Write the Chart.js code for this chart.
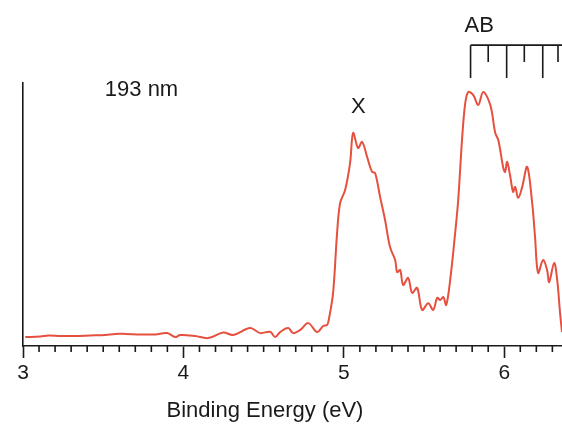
<!DOCTYPE html>
<html lang="en">
<head>
  <meta charset="UTF-8" />
  <title>193 nm photoelectron spectrum</title>
  <script src="https://cdn.jsdelivr.net/npm/chart.js"></script>
  <style>
    html, body { margin: 0; padding: 0; background: #fff; }
    .wrap { width: 562px; height: 424px; }
  </style>
</head>
<body>
  <div class="wrap"><canvas id="pes"></canvas></div>

  <script>
    // binding energy (eV) and signal (arb. units, 0-100)
    const energy = [
      3.014, 3.108, 3.158, 3.232, 3.326, 3.419, 3.513, 3.575, 3.637, 3.731,
      3.824, 3.899, 3.949, 3.980, 4.073, 4.154, 4.248, 4.310, 4.416, 4.478,
      4.541, 4.572, 4.603, 4.653, 4.684, 4.728, 4.778, 4.834, 4.871, 4.896,
      4.908, 4.933, 4.958, 4.977, 5.008, 5.039, 5.058, 5.089, 5.114, 5.145,
      5.176, 5.195, 5.226, 5.257, 5.288, 5.320, 5.332, 5.351, 5.370, 5.401,
      5.426, 5.457, 5.488, 5.526, 5.557, 5.582, 5.601, 5.620, 5.638, 5.663,
      5.694, 5.713, 5.738, 5.757, 5.776, 5.807, 5.838, 5.869, 5.913, 5.944,
      5.963, 5.994, 6.005, 6.018, 6.036, 6.055, 6.068, 6.087, 6.112, 6.143,
      6.174, 6.192, 6.211, 6.242, 6.267, 6.280, 6.311, 6.330, 6.348, 6.360
    ];
    const signal = [
      3.4, 3.6, 4.0, 3.8, 3.8, 4.0, 4.2, 4.6, 4.6, 4.4,
      4.4, 4.9, 3.4, 4.2, 3.8, 3.0, 5.1, 4.2, 6.8, 4.9,
      5.4, 3.4, 5.3, 6.8, 4.9, 6.1, 8.7, 5.3, 7.6, 8.0,
      10.6, 20.2, 43.0, 54.4, 59.3, 69.6, 81.0, 75.3, 77.6, 71.9,
      66.2, 65.8, 56.7, 47.9, 37.6, 32.7, 28.1, 28.9, 23.2, 25.9,
      20.2, 22.1, 13.7, 16.3, 13.7, 18.3, 17.5, 18.6, 15.6, 25.1,
      43.0, 55.5, 79.5, 92.4, 96.6, 95.4, 91.6, 96.6, 91.6, 81.0,
      78.3, 67.7, 66.2, 70.0, 65.0, 58.6, 60.5, 56.3, 60.5, 68.1,
      54.4, 41.4, 27.8, 32.7, 28.9, 24.3, 31.6, 25.1, 12.5, 5.3
    ];

    const xMin = 3, xMax = 6.36;
    const majorTicks = [3, 4, 5, 6];

    // vibrational comb for the A/B band
    const combLong = [5.79, 6.015, 6.24];
    const combShort = [5.90, 6.125, 6.335];
    const combTop = 114.4, combLongEnd = 101.9, combShortEnd = 108.0;

    const notes = [
      { text: '193 nm', x: 3.51, y: 97.3, align: 'left' },
      { text: 'X', x: 5.09, y: 90.9, align: 'center' },
      { text: 'AB', x: 5.844, y: 121.7, align: 'center' }
    ];

    const FONT = '"Liberation Sans", Arial, Helvetica, sans-serif';
    const INK = '#1a1a1a';

    const extras = {
      id: 'extras',
      afterDraw(chart) {
        const { ctx, scales: { x, y } } = chart;
        ctx.save();
        ctx.strokeStyle = INK;
        ctx.lineWidth = 1.6;

        // minor ticks every 0.1 eV
        const base = x.top;
        ctx.beginPath();
        for (let i = 31; i <= 63; i++) {
          if (i % 10 === 0) continue;
          const px = x.getPixelForValue(i / 10);
          ctx.moveTo(px, base);
          ctx.lineTo(px, base + 6);
        }
        ctx.stroke();

        // comb
        const yt = y.getPixelForValue(combTop);
        ctx.beginPath();
        ctx.moveTo(x.getPixelForValue(combLong[0]), yt);
        ctx.lineTo(x.getPixelForValue(xMax), yt);
        combLong.forEach(v => {
          const px = x.getPixelForValue(v);
          ctx.moveTo(px, yt);
          ctx.lineTo(px, y.getPixelForValue(combLongEnd));
        });
        combShort.forEach(v => {
          const px = x.getPixelForValue(v);
          ctx.moveTo(px, yt);
          ctx.lineTo(px, y.getPixelForValue(combShortEnd));
        });
        ctx.stroke();

        // labels
        ctx.fillStyle = INK;
        ctx.font = '22px ' + FONT;
        ctx.textBaseline = 'middle';
        notes.forEach(n => {
          ctx.textAlign = n.align;
          ctx.fillText(n.text, x.getPixelForValue(n.x), y.getPixelForValue(n.y));
        });

        // axis title (sits left of the plot centre in the original)
        ctx.font = '22px ' + FONT;
        ctx.textAlign = 'center';
        ctx.fillText('Binding Energy (eV)', 265, 411);
        ctx.restore();
      }
    };

    new Chart(document.getElementById('pes'), {
      type: 'line',
      data: {
        labels: energy,
        datasets: [{
          data: energy.map((e, i) => ({ x: e, y: signal[i] })),
          borderColor: '#e5503f',
          borderWidth: 2,
          pointRadius: 0,
          tension: 0.35,
          fill: false
        }]
      },
      options: {
        responsive: true,
        maintainAspectRatio: false,
        animation: false,
        layout: { padding: { top: 83, left: 23, right: 0, bottom: 0 } },
        plugins: { legend: { display: false }, tooltip: { enabled: false } },
        scales: {
          x: {
            type: 'linear',
            min: xMin,
            max: xMax,
            afterFit: s => { s.height = 78; },
            afterBuildTicks: s => { s.ticks = majorTicks.map(v => ({ value: v })); },
            border: { color: INK, width: 1.6 },
            grid: { drawOnChartArea: false, drawTicks: true, tickLength: 12, tickColor: INK, tickWidth: 1.6 },
            ticks: { color: INK, font: { family: FONT, size: 21 }, padding: 3, maxRotation: 0 }
          },
          y: {
            min: 0,
            max: 100,
            afterFit: s => { s.width = 0; },
            border: { color: INK, width: 1.6 },
            grid: { drawOnChartArea: false, drawTicks: false },
            ticks: { display: false }
          }
        }
      },
      plugins: [extras]
    });
  </script>
</body>
</html>
